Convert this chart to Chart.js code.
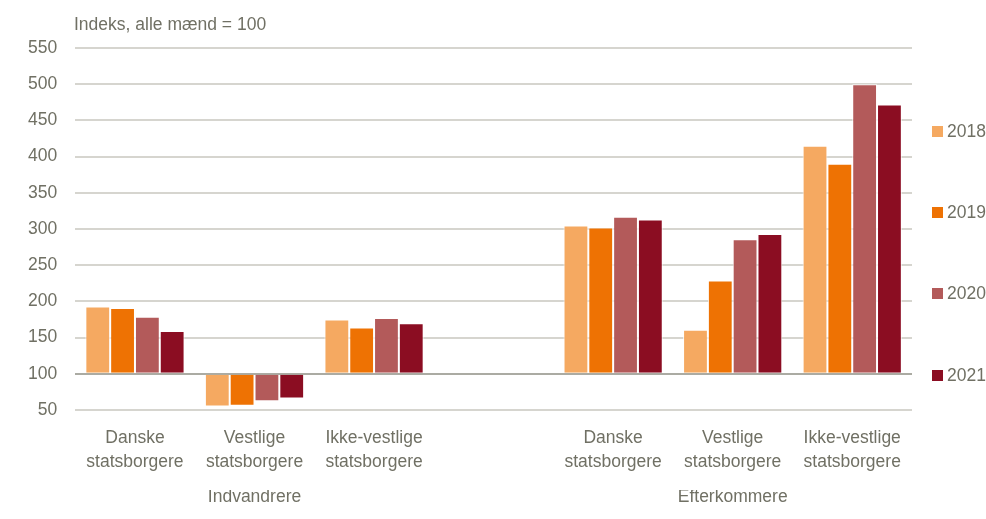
<!DOCTYPE html>
<html lang="da">
<head>
<meta charset="utf-8">
<title>Indeks, alle mænd = 100</title>
<script src="https://cdn.jsdelivr.net/npm/chart.js@4/dist/chart.umd.min.js"></script>
<style>
    html, body { margin: 0; padding: 0; background: #fff; }
    .wrap { position: relative; width: 986px; height: 519px; font-family: "Liberation Sans", Arial, sans-serif; color: #707064; }
    .unit { position: absolute; left: 74px; top: 14px; font-size: 17.5px; }
    .legend { position: absolute; left: 932px; top: 0; }
    .legend div { position: absolute; left: 0; white-space: nowrap; font-size: 17.5px; line-height: 20px; }
    .legend span { display: inline-block; width: 11px; height: 11px; margin-right: 4px; vertical-align: 0px; }
</style>
</head>
<body>
<div class="wrap">
    <div class="unit">Indeks, alle mænd = 100</div>
    <canvas id="chart" width="986" height="519"></canvas>
    <div class="legend" id="legend"></div>
</div>
<script>
/* Index by citizenship group, immigrants vs. descendants, 2018-2021 */
const categories = [
    ['Danske', 'statsborgere'],
    ['Vestlige', 'statsborgere'],
    ['Ikke-vestlige', 'statsborgere'],
    '',
    ['Danske', 'statsborgere'],
    ['Vestlige', 'statsborgere'],
    ['Ikke-vestlige', 'statsborgere']
];
const groups = ['', 'Indvandrere', '', '', '', 'Efterkommere', ''];
const years = ['2018', '2019', '2020', '2021'];

const v2018 = [193, 55, 175, null, 305, 161, 415];
const v2019 = [191, 56, 164, null, 302, 229, 390];
const v2020 = [179, 62, 177, null, 317, 286, 500];
const v2021 = [159, 66, 170, null, 313, 293, 472];

const yTicks = [50, 100, 150, 200, 250, 300, 350, 400, 450, 500, 550];

const colors = ['#F5A961', '#EE7203', '#B35A5A', '#8B0D22'];
const FONT = '"Liberation Sans", Arial, sans-serif';
const TXT = '#707064';
const SIZE = 17.5;

const series = [v2018, v2019, v2020, v2021];

// legend down the right-hand side
const legendTops = [121, 202, 283, 365];
document.getElementById('legend').innerHTML = years.map((y, i) =>
    `<div style="top:${legendTops[i]}px"><span style="background:${colors[i]}"></span>${y}</div>`
).join('');

new Chart(document.getElementById('chart'), {
    type: 'bar',
    data: {
        labels: categories,
        datasets: series.map((d, i) => ({
            label: years[i],
            data: d,
            base: 100,
            backgroundColor: colors[i],
            borderColor: 'rgba(255,255,255,0.85)',
            borderWidth: 1,
            barPercentage: 1,
            categoryPercentage: 0.83
        }))
    },
    options: {
        responsive: false,
        animation: false,
        layout: { padding: { top: 48, left: 10, right: 74, bottom: 14 } },
        plugins: {
            tooltip: { enabled: false },
            legend: { display: false }
        },
        scales: {
            y: {
                min: 50, max: 550,
                afterBuildTicks: axis => { axis.ticks = yTicks.map(v => ({ value: v })); },
                border: { display: false },
                grid: {
                    drawTicks: false,
                    lineWidth: 2,
                    color: ctx => ctx.tick && ctx.tick.value === 100 ? '#ABABA3' : '#D6D5CF'
                },
                ticks: { padding: 18, color: TXT, font: { family: FONT, size: SIZE } }
            },
            x: {
                grid: { display: false, drawTicks: false },
                border: { display: false },
                ticks: { padding: 16, maxRotation: 0, autoSkip: false, color: TXT, font: { family: FONT, size: SIZE, lineHeight: 1.37 } }
            },
            x2: {
                type: 'category',
                labels: groups,
                position: 'bottom',
                grid: { display: false, drawTicks: false },
                border: { display: false },
                ticks: { padding: -3, maxRotation: 0, autoSkip: false, color: TXT, font: { family: FONT, size: SIZE, lineHeight: 1.2 } }
            }
        }
    }
});
</script>
</body>
</html>
